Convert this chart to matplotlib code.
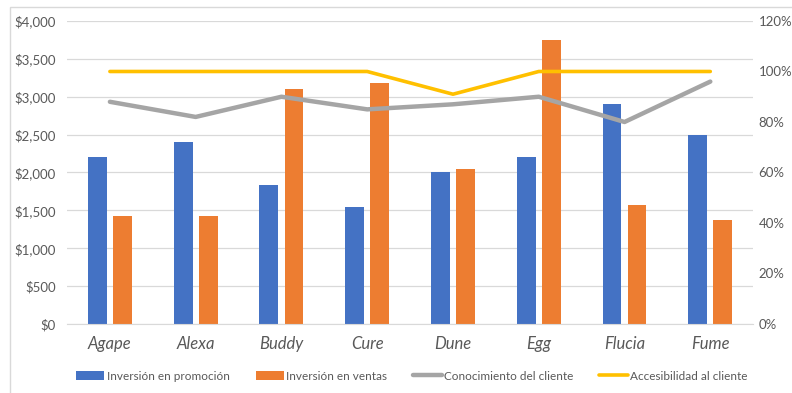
import matplotlib.pyplot as plt
import numpy as np
from matplotlib.patches import Rectangle
from matplotlib.ticker import FuncFormatter

plt.rcParams["font.family"] = ["Lato", "DejaVu Sans"]

brands = ["Agape", "Alexa", "Buddy", "Cure", "Dune", "Egg", "Flucia", "Fume"]
promocion = [2200, 2400, 1840, 1550, 2000, 2200, 2900, 2500]
ventas = [1420, 1420, 3100, 3180, 2050, 3750, 1570, 1370]
conocimiento = [0.88, 0.82, 0.90, 0.85, 0.87, 0.90, 0.80, 0.96]
accesibilidad = [1.00, 1.00, 1.00, 1.00, 0.91, 1.00, 1.00, 1.00]

text_color = "#595959"
grid_color = "#D9D9D9"

fig = plt.figure(figsize=(7.92, 3.93), dpi=100)
ax = fig.add_axes([0.0846, 0.1756, 0.8664, 0.771])
ax2 = ax.twinx()

x = np.arange(len(brands))
w = 0.22
ax.bar(x - 0.146, promocion, w, color="#4472C4", label="Inversión en promoción", zorder=2)
ax.bar(x + 0.146, ventas, w, color="#ED7D31", label="Inversión en ventas", zorder=2)

ax2.plot(x, conocimiento, color="#A5A5A5", lw=3.2, solid_capstyle="round",
         label="Conocimiento del cliente")
ax2.plot(x, accesibilidad, color="#FFC000", lw=2.6, solid_capstyle="round",
         label="Accesibilidad al cliente")

ax.set_xlim(-0.5, len(brands) - 0.5)
ax.set_ylim(0, 4000)
ax.set_yticks(range(0, 4001, 500))
ax.yaxis.set_major_formatter(FuncFormatter(lambda v, p: f"${v:,.0f}"))
ax2.set_ylim(0, 1.2)
ax2.set_yticks(np.arange(0, 1.21, 0.2))
ax2.yaxis.set_major_formatter(FuncFormatter(lambda v, p: f"{v * 100:.0f}%"))

ax.set_xticks(x)
ax.set_xticklabels(brands, style="italic", color=text_color)
ax.grid(axis="y", color=grid_color, lw=0.9, zorder=0)
ax.set_axisbelow(True)

for a in (ax, ax2):
    for s in ("top", "left", "right", "bottom"):
        a.spines[s].set_visible(False)
    a.tick_params(length=0, labelsize=9.5, labelcolor=text_color)
ax.spines["bottom"].set_visible(True)
ax.spines["bottom"].set_color(grid_color)
ax.tick_params(axis="x", pad=9, labelsize=12)
ax.tick_params(axis="y", pad=8)
ax2.tick_params(axis="y", pad=4, labelsize=9.5)

handles = ax.get_legend_handles_labels()[0] + ax2.get_legend_handles_labels()[0]
labels = ax.get_legend_handles_labels()[1] + ax2.get_legend_handles_labels()[1]
fig.legend(handles, labels, loc="center", bbox_to_anchor=(0.52, 0.043), ncol=4,
           frameon=False, fontsize=8.5, labelcolor=text_color, handlelength=2.4,
           handletextpad=0.2, columnspacing=2.2)

fig.patches.append(Rectangle((0.013, -0.01), 1.0, 0.993, transform=fig.transFigure,
                             fill=False, edgecolor=grid_color, lw=1))

fig.savefig("out.png", dpi=100)
